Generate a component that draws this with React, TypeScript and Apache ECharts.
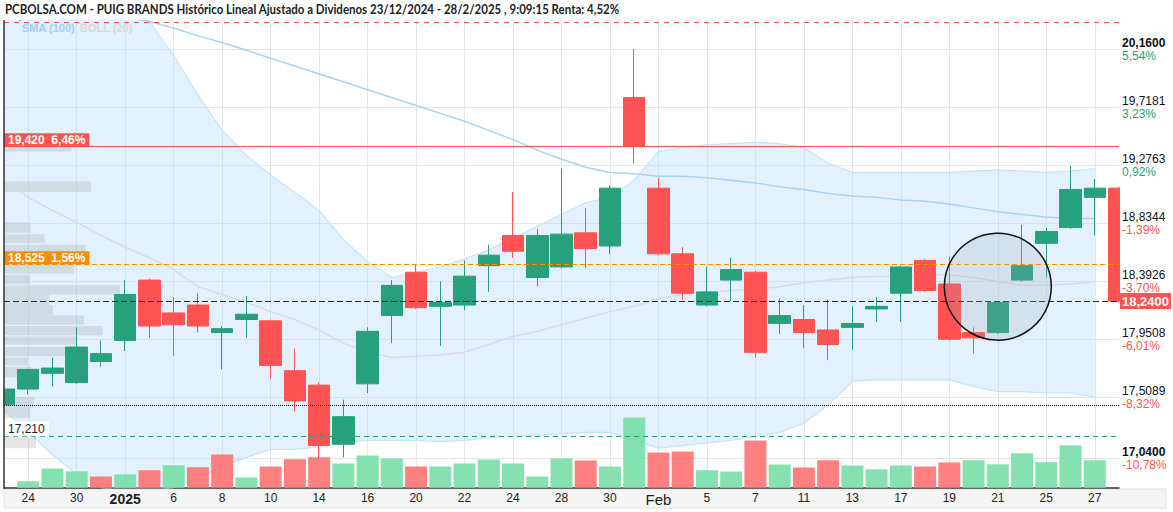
import React, { useEffect, useRef } from 'react';
import * as echarts from 'echarts';

const dates = [
  '2024-12-23', '2024-12-24', '2024-12-27', '2024-12-30', '2024-12-31',
  '2025-01-02', '2025-01-03', '2025-01-06', '2025-01-07', '2025-01-08', '2025-01-09', '2025-01-10',
  '2025-01-13', '2025-01-14', '2025-01-15', '2025-01-16', '2025-01-17', '2025-01-20', '2025-01-21',
  '2025-01-22', '2025-01-23', '2025-01-24', '2025-01-27', '2025-01-28', '2025-01-29', '2025-01-30',
  '2025-01-31', '2025-02-03', '2025-02-04', '2025-02-05', '2025-02-06', '2025-02-07', '2025-02-10',
  '2025-02-11', '2025-02-12', '2025-02-13', '2025-02-14', '2025-02-17', '2025-02-18', '2025-02-19',
  '2025-02-20', '2025-02-21', '2025-02-24', '2025-02-25', '2025-02-26', '2025-02-27', '2025-02-28',
];

const opens = [17.45, 17.57, 17.69, 17.62, 17.78, 17.94, 18.40, 18.15, 18.21, 18.00, 18.10, 18.09, 17.71, 17.60, 17.15, 17.61, 18.13, 18.46, 18.20, 18.21, 18.51, 18.74, 18.42, 18.50, 18.76, 18.66, 19.79, 19.10, 18.60, 18.21, 18.40, 18.46, 18.07, 18.10, 18.02, 18.04, 18.18, 18.30, 18.55, 18.37, 18.00, 18.00, 18.40, 18.68, 18.80, 19.03, 19.10];
const closes = [17.57, 17.72, 17.73, 17.89, 17.84, 18.29, 18.05, 18.06, 18.05, 18.03, 18.14, 17.75, 17.48, 17.14, 17.36, 18.01, 18.36, 18.19, 18.23, 18.43, 18.59, 18.62, 18.74, 18.75, 18.64, 19.10, 19.42, 18.60, 18.30, 18.31, 18.48, 17.85, 18.13, 18.00, 17.91, 18.07, 18.20, 18.50, 18.32, 17.95, 17.96, 18.23, 18.51, 18.77, 19.09, 19.10, 18.24];
const lows = [17.43, 17.53, 17.59, 17.61, 17.74, 17.86, 17.96, 17.82, 18.00, 17.72, 17.96, 17.65, 17.40, 17.04, 17.05, 17.54, 17.92, 18.18, 17.90, 18.17, 18.31, 18.57, 18.35, 18.49, 18.49, 18.60, 19.29, 18.59, 18.25, 18.20, 18.24, 17.81, 17.99, 17.88, 17.79, 17.87, 18.08, 18.08, 18.31, 17.94, 17.84, 17.99, 18.39, 18.42, 18.79, 18.74, 18.23];
const highs = [17.59, 17.72, 17.81, 18.04, 17.94, 18.40, 18.41, 18.27, 18.30, 18.05, 18.28, 18.10, 17.88, 17.62, 17.49, 18.04, 18.40, 18.52, 18.39, 18.55, 18.67, 19.07, 18.79, 19.25, 18.95, 19.12, 20.16, 19.18, 18.65, 18.50, 18.57, 18.47, 18.26, 18.21, 18.25, 18.20, 18.27, 18.51, 18.56, 18.58, 18.04, 18.23, 18.82, 18.80, 19.27, 19.17, 19.11];
// volume, thousands of shares
const volumes = [null, 135, 390, 335, 230, 270, 355, 455, 415, 670, 210, 430, 575, 615, 490, 650, 590, 430, 430, 490, 570, 490, 230, 590, 550, 430, 1410, 710, 730, 355, 330, 950, 470, 410, 555, 450, 375, 450, 430, 510, 555, 475, 695, 515, 855, 555, null];

const bollUpper = [20.91, 20.84, 20.80, 20.75, 20.65, 20.52, 20.37, 20.11, 19.81, 19.54, 19.35, 19.20, 19.07, 18.93, 18.71, 18.54, 18.42, 18.46, 18.50, 18.56, 18.63, 18.72, 18.81, 18.90, 18.99, 19.03, 19.16, 19.38, 19.41, 19.43, 19.44, 19.45, 19.44, 19.41, 19.29, 19.22, 19.22, 19.22, 19.22, 19.22, 19.23, 19.24, 19.23, 19.22, 19.23, 19.25, null];
const bollLower = [17.41, 17.24, 17.07, 16.92, 16.82, 16.79, 16.79, 16.82, 16.89, 16.98, 17.05, 17.11, 17.11, 17.13, 17.16, 17.18, 17.18, 17.18, 17.17, 17.18, 17.20, 17.21, 17.22, 17.23, 17.24, 17.24, 17.18, 17.12, 17.14, 17.16, 17.18, 17.21, 17.24, 17.31, 17.45, 17.63, 17.64, 17.64, 17.64, 17.64, 17.59, 17.55, 17.55, 17.54, 17.54, 17.51, null];
const bollMid = [19.16, 19.03, 18.93, 18.84, 18.74, 18.65, 18.57, 18.48, 18.35, 18.29, 18.23, 18.16, 18.10, 18.02, 17.92, 17.85, 17.81, 17.82, 17.83, 17.85, 17.91, 17.97, 18.01, 18.06, 18.11, 18.16, 18.20, 18.26, 18.29, 18.31, 18.32, 18.33, 18.35, 18.38, 18.40, 18.42, 18.43, 18.43, 18.44, 18.44, 18.42, 18.39, 18.36, 18.36, 18.37, 18.39, null];
const sma100 = [20.61, 20.56, 20.51, 20.47, 20.43, 20.40, 20.37, 20.32, 20.26, 20.21, 20.15, 20.09, 20.03, 19.97, 19.91, 19.85, 19.79, 19.73, 19.67, 19.61, 19.54, 19.47, 19.39, 19.32, 19.26, 19.22, 19.21, 19.19, 19.19, 19.18, 19.16, 19.14, 19.11, 19.09, 19.06, 19.04, 19.03, 19.01, 19.00, 18.98, 18.95, 18.92, 18.90, 18.88, 18.87, 18.87, null];

// volume-at-price profile (price bin low, high, volume)
const profileLow = [19.38, 19.07, 18.76, 18.68, 18.60, 18.45, 18.37, 18.29, 18.21, 18.13, 18.06, 17.98, 17.91, 17.82, 17.75, 17.66, 17.43, 17.35, 17.12];
const profileHigh = [19.45, 19.15, 18.84, 18.75, 18.67, 18.52, 18.44, 18.36, 18.29, 18.21, 18.13, 18.05, 17.97, 17.89, 17.81, 17.74, 17.51, 17.43, 17.21];
const profileVol = [580, 750, 230, 350, 700, 600, 225, 1000, 390, 420, 690, 850, 630, 560, 205, 230, 260, 225, 275];

const yTickValues = [20.16, 19.7181, 19.2763, 18.8344, 18.3926, 17.9508, 17.5089, 17.04];
const yTickPcts = ['5,54%', '3,23%', '0,92%', '-1,39%', '-3,70%', '-6,01%', '-8,32%', '-10,78%'];

const levelResistance = 19.42;
const levelResistanceLabel = '19,420  6,46%';
const levelOrange = 18.525;
const levelOrangeLabel = '18,525  1,56%';
const levelLast = 18.24;
const levelLastLabel = '18,2400';
const levelDotted = 17.449;
const levelSupport = 17.21;
const levelSupportLabel = '17,210';
const levelTop = 20.36;
const levelTopLabel = '20,360';

const titleText = 'PCBOLSA.COM - PUIG BRANDS Histórico Lineal Ajustado a Dividenos 23/12/2024 - 28/2/2025 , 9:09:15 Renta: 4,52%';
const monthNames = ['Jan', 'Feb', 'Mar', 'Apr', 'May', 'Jun', 'Jul', 'Aug', 'Sep', 'Oct', 'Nov', 'Dec'];

const GREEN = '#26a17b';
const RED = '#ff5252';
const FONT = 'Arial, "Liberation Sans", sans-serif';

export default function App() {
  const ref = useRef<HTMLDivElement>(null);
  useEffect(() => {
    document.body.style.margin = '0';
    if (!ref.current) return;
    const chart = echarts.init(ref.current, null, { renderer: 'svg' });
    const candleData = opens.map((o, i) => [o, closes[i], lows[i], highs[i]]);
    const bandWidth = bollUpper.map((u, i) => (u == null || bollLower[i] == null ? '-' : +(u - (bollLower[i] as number)).toFixed(4)));
    const lowerData = bollLower.map((v) => (v == null ? '-' : v));
    const xFmt = (v: string) => {
      const idx = dates.indexOf(v);
      const prev = idx > 0 ? dates[idx - 1] : null;
      if (prev && prev.slice(0, 4) !== v.slice(0, 4)) return '{y|' + v.slice(0, 4) + '}';
      if (prev && prev.slice(5, 7) !== v.slice(5, 7)) return '{m|' + monthNames[parseInt(v.slice(5, 7), 10) - 1] + '}';
      return String(parseInt(v.slice(8, 10), 10));
    };
    const option: any = {
      animation: false,
      textStyle: { fontFamily: FONT },
      grid: { left: 4, right: 54, top: 20, bottom: 24, show: false },
      xAxis: [
        {
          type: 'category',
          data: dates,
          boundaryGap: false,
          axisLine: { lineStyle: { color: '#333', width: 1.5 } },
          axisTick: { show: false, interval: (i: number) => i % 2 === 1 },
          axisLabel: {
            interval: (i: number) => i % 2 === 1,
            color: '#222',
            fontSize: 12,
            margin: 4,
            formatter: xFmt,
            rich: {
              y: { fontWeight: 'bold', fontSize: 14, color: '#222' },
              m: { fontSize: 15, color: '#222' },
            },
          },
          splitLine: { show: true, interval: (i: number) => i % 2 === 1, lineStyle: { color: '#e6e6e6' } },
        },
        { type: 'value', min: 0, max: 9600, show: false, position: 'top' },
      ],
      yAxis: [
        {
          type: 'value',
          position: 'right',
          min: 16.8166,
          max: 20.3809,
          z: 10,
          axisLine: { show: true, lineStyle: { color: '#333', width: 1.5 } },
          axisTick: { show: false, customValues: yTickValues },
          axisLabel: {
            customValues: yTickValues,
            margin: 3,
            formatter: (val: number) => {
              const i = yTickValues.findIndex((t) => Math.abs(t - val) < 1e-4);
              if (i < 0) return '';
              const txt = yTickValues[i].toFixed(4).replace('.', ',');
              const pct = yTickPcts[i];
              const vs = i === 0 || i === yTickValues.length - 1 ? 'vb' : 'v';
              const ps = pct.startsWith('-') ? 'neg' : 'pos';
              return '{' + vs + '|' + txt + '}\n{' + ps + '|' + pct + '}';
            },
            rich: {
              v: { color: '#111', fontSize: 12, lineHeight: 13 },
              vb: { color: '#111', fontSize: 12, fontWeight: 'bold', lineHeight: 13 },
              pos: { color: GREEN, fontSize: 12, lineHeight: 13 },
              neg: { color: RED, fontSize: 12, lineHeight: 13 },
            },
          },
          splitLine: { show: false },
        },
        { type: 'value', min: 0, max: 9360, show: false },
        {
          type: 'value',
          position: 'right',
          min: 16.8166,
          max: 20.3809,
          z: 0,
          axisLine: { show: false },
          axisTick: { show: false, customValues: yTickValues },
          axisLabel: { show: false, customValues: yTickValues },
          splitLine: { show: true, lineStyle: { color: '#e6e6e6' } },
        },
      ],
      series: [
        {
          name: 'BOLL lower',
          type: 'line',
          data: lowerData,
          stack: 'boll',
          symbol: 'none',
          silent: true,
          z: 1,
          lineStyle: { color: '#c6e3f9', width: 1.2 },
        },
        {
          name: 'BOLL band',
          type: 'line',
          data: bandWidth,
          stack: 'boll',
          symbol: 'none',
          silent: true,
          z: 1,
          lineStyle: { color: '#c6e3f9', width: 1.2 },
          areaStyle: { color: 'rgba(187,222,250,0.42)', opacity: 1 },
        },
        {
          name: 'BOLL mid',
          type: 'line',
          data: bollMid.map((v) => (v == null ? '-' : v)),
          symbol: 'none',
          silent: true,
          z: 2,
          lineStyle: { color: '#dcdcdc', width: 1.5 },
        },
        {
          name: 'SMA 100',
          type: 'line',
          data: sma100.map((v) => (v == null ? '-' : v)),
          symbol: 'none',
          silent: true,
          z: 2,
          lineStyle: { color: '#a6d3f7', width: 1.5 },
        },
        {
          name: 'Volumen',
          type: 'bar',
          xAxisIndex: 0,
          yAxisIndex: 1,
          barWidth: 22,
          z: 2,
          data: volumes.map((v) => (v == null ? '-' : v)),
          itemStyle: {
            color: (p: any) => {
              const i = p.dataIndex;
              return i > 0 && closes[i] < closes[i - 1] ? 'rgba(255,106,106,0.85)' : 'rgba(112,221,162,0.85)';
            },
          },
        },
        {
          name: 'Perfil',
          type: 'custom',
          xAxisIndex: 1,
          yAxisIndex: 0,
          silent: true,
          z: 2,
          data: profileLow.map((l, i) => [l, profileHigh[i], profileVol[i]]),
          renderItem: (params: any, api: any) => {
            const lo = api.value(0);
            const hi = api.value(1);
            const vol = api.value(2);
            const p0 = api.coord([0, hi]);
            const p1 = api.coord([vol, lo]);
            return {
              type: 'rect',
              shape: { x: p0[0], y: p0[1], width: p1[0] - p0[0], height: p1[1] - p0[1] },
              style: { fill: 'rgba(170,170,170,0.3)' },
            };
          },
        },
        {
          name: 'PUIG',
          type: 'candlestick',
          data: candleData,
          barWidth: 22,
          z: 3,
          itemStyle: { color: GREEN, color0: RED, borderColor: GREEN, borderColor0: RED, borderWidth: 1 },
          markLine: {
            symbol: ['none', 'none'],
            silent: true,
            animation: false,
            z: 5,
            data: [
              {
                yAxis: levelTop,
                lineStyle: { color: RED, type: [5, 5], width: 1 },
                label: { show: true, position: 'insideStartTop', distance: 1, formatter: levelTopLabel, color: '#333', fontSize: 12, fontFamily: FONT },
              },
              {
                yAxis: levelResistance,
                lineStyle: { color: RED, type: 'solid', width: 1 },
                label: {
                  show: true, position: 'insideStartTop', distance: [0, 0], formatter: levelResistanceLabel,
                  color: '#fff', fontWeight: 'bold', fontSize: 12, backgroundColor: RED, padding: [1, 4, 0, 4], fontFamily: FONT,
                },
              },
              {
                yAxis: levelOrange,
                lineStyle: { color: '#ff8c00', type: [5, 3], width: 1 },
                label: {
                  show: true, position: 'insideStartTop', distance: [0, 0], formatter: levelOrangeLabel,
                  color: '#fff', fontWeight: 'bold', fontSize: 12, backgroundColor: '#ff8c00', padding: [1, 4, 0, 4], fontFamily: FONT,
                },
              },
              {
                yAxis: levelLast,
                lineStyle: { color: '#1a1aa8', type: [6, 3], width: 1 },
                label: {
                  show: true, position: 'end', distance: 1, formatter: levelLastLabel,
                  color: '#fff', fontWeight: 'bold', fontSize: 13, backgroundColor: RED, padding: [2, 2, 1, 2], fontFamily: FONT,
                },
              },
              {
                yAxis: levelDotted,
                lineStyle: { color: '#111', type: 'dotted', width: 1 },
                label: { show: false },
              },
              {
                yAxis: levelSupport,
                lineStyle: { color: GREEN, type: [5, 4], width: 1 },
                label: {
                  show: true, position: 'insideStartTop', distance: [0, 0], formatter: levelSupportLabel,
                  color: '#222', fontSize: 12, backgroundColor: '#fff', padding: [2, 4, 1, 4], fontFamily: FONT,
                },
              },
            ],
          },
          markPoint: {
            silent: true,
            animation: false,
            z: 5,
            data: [
              {
                coord: [41, 18.35],
                symbol: 'circle',
                symbolSize: 107,
                itemStyle: { color: 'rgba(160,170,180,0.22)', borderColor: '#111', borderWidth: 1.5 },
                label: { show: false },
              },
            ],
          },
        },
      ],
      graphic: [
        { type: 'rect', x: 4, y: 489, z: -1, shape: { width: 1162, height: 19 }, style: { fill: '#f5f5f5', stroke: '#e2e2e2', lineWidth: 1 } },
        { type: 'rect', x: 1120, y: 0, z: 4, shape: { width: 53, height: 488 }, style: { fill: '#fff' } },
        { type: 'rect', x: 0, y: 20, z: 4, shape: { width: 3.5, height: 468 }, style: { fill: '#fff' } },
        { type: 'rect', x: 0, y: 0, z: 100, shape: { width: 624, height: 20 }, style: { fill: '#fff' } },
        {
          type: 'text', x: 5, y: 3, z: 101, scaleX: 0.885,
          style: { text: titleText, fill: '#222', font: 'bold 13px Lato' },
        },
        { type: 'text', x: 22, y: 22, z: 101, style: { text: 'SMA (100)', fill: '#9fd0f5', font: 'bold 11px Arial' } },
        { type: 'text', x: 80, y: 22, z: 101, style: { text: 'BOLL (20)', fill: '#d9d9d9', font: 'bold 11px Arial' } },
      ],
    };
    chart.setOption(option);
    return () => chart.dispose();
  }, []);
  return <div ref={ref} style={{ width: 1173, height: 512 }} />;
}
